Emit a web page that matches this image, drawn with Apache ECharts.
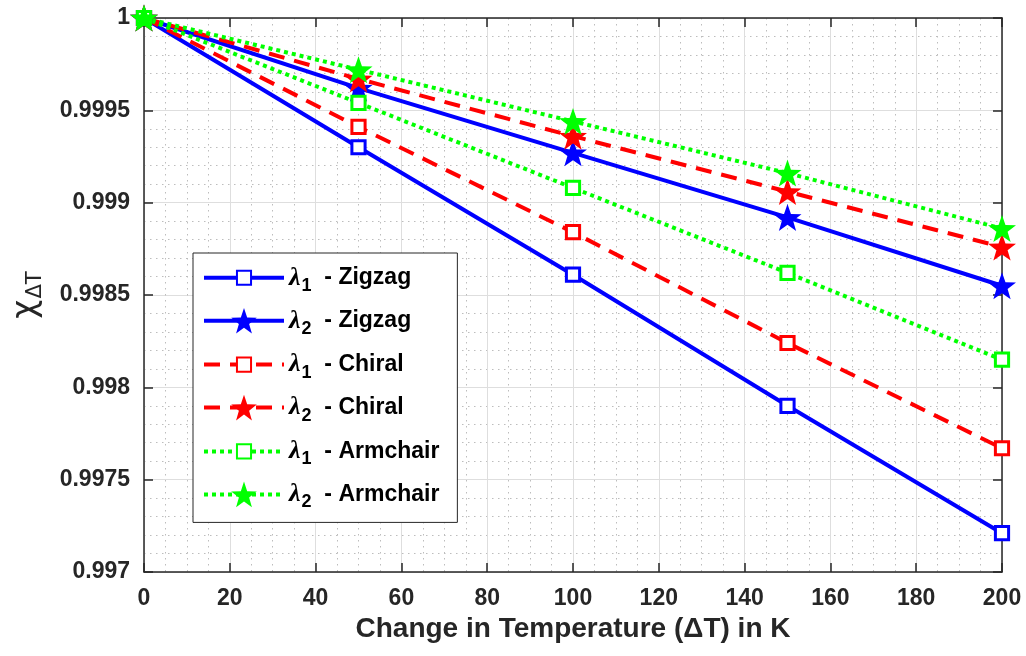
<!DOCTYPE html>
<html>
<head>
<meta charset="utf-8">
<script src="https://cdn.jsdelivr.net/npm/echarts@6/dist/echarts.min.js"></script>
<style>
  html, body { margin: 0; padding: 0; background: #fff; }
  #chart { width: 1026px; height: 656px; }
</style>
</head>
<body>
<div id="chart"></div>
<script>
// temperature change (K)
const deltaT = [0, 50, 100, 150, 200];

// values
const lambda1Zigzag = [1, 0.99930, 0.99861, 0.99790, 0.99721];
const lambda2Zigzag = [1, 0.99962, 0.99927, 0.99892, 0.99855];
const lambda1Chiral = [1, 0.99941, 0.99884, 0.99824, 0.99767];
const lambda2Chiral = [1, 0.99967, 0.99936, 0.99906, 0.99876];
const lambda1Armchair = [1, 0.99954, 0.99908, 0.99862, 0.99815];
const lambda2Armchair = [1, 0.99972, 0.99944, 0.99916, 0.99886];

const seriesNames = [
  "λ1 - Zigzag", "λ2 - Zigzag",
  "λ1 - Chiral", "λ2 - Chiral",
  "λ1 - Armchair", "λ2 - Armchair",
];

const axisColor = "#262626";
const star = "path://M0,-10 L2.35,-3.24 L9.51,-3.09 L3.8,1.24 L5.88,8.09 L0,4 L-5.88,8.09 L-3.8,1.24 L-9.51,-3.09 L-2.35,-3.24 Z";
// square drawn at ~55% of its box, so the legend icon keeps it small next to the stars
const square = "path://M-10,-10 M10,10 M-5.5,-5.5 L5.5,-5.5 L5.5,5.5 L-5.5,5.5 Z";

function pairs(ys) {
  return deltaT.map((x, i) => [x, ys[i]]);
}

function makeSeries(name, ys, color, dash, marker) {
  const isStar = marker === "star";
  return {
    name: name,
    type: "line",
    data: pairs(ys),
    symbol: isStar ? star : square,
    symbolSize: isStar ? [28, 27] : 24,
    showSymbol: true,
    lineStyle: { color: color, width: 4, type: dash },
    itemStyle: isStar
      ? { color: color, borderWidth: 0 }
      : { color: "#fff", borderColor: color, borderWidth: 3 },
    emphasis: { disabled: true },
    z: 2,
  };
}

const chart = echarts.init(document.getElementById("chart"), null, { renderer: "canvas" });

const tickLabel = {
  fontSize: 23,
  fontWeight: "bold",
  color: axisColor,
  fontFamily: "Liberation Sans",
};

const options = {
  animation: false,
  backgroundColor: "#fff",
  grid: { left: 144, right: 24, top: 18, bottom: 84 },
  legend: {
    orient: "vertical",
    left: 193,
    top: 253,
    selectedMode: false,
    backgroundColor: "#fff",
    borderColor: axisColor,
    borderWidth: 1,
    padding: [11, 18, 11, 9],
    itemWidth: 80,
    itemHeight: 32,
    itemGap: 13,
    lineStyle: { width: 4 },
    data: seriesNames,
    formatter: function (name) {
      const m = name.match(/λ(\d) - (.*)/);
      return "{l|λ}{s|" + m[1] + "}{t|  - " + m[2] + "}";
    },
    textStyle: {
      color: "#000",
      rich: {
        l: { fontSize: 26, fontStyle: "italic", fontWeight: "bold", fontFamily: "Liberation Serif", color: "#000" },
        s: { fontSize: 18, fontWeight: "bold", fontFamily: "Liberation Sans", color: "#000", padding: [16, 0, 0, 1] },
        t: { fontSize: 23, fontWeight: "bold", fontFamily: "Liberation Sans", color: "#000" },
      },
    },
  },
  xAxis: [
    {
      type: "value",
      min: 0,
      max: 200,
      interval: 20,
      position: "bottom",
      name: "Change in Temperature (ΔT) in K",
      nameLocation: "middle",
      nameGap: 43,
      nameTextStyle: { fontSize: 28, fontWeight: "bold", color: axisColor, fontFamily: "Liberation Sans" },
      axisLine: { show: true, onZero: false, lineStyle: { color: axisColor, width: 1.5 } },
      axisTick: { show: true, inside: true, length: 9, lineStyle: { color: axisColor, width: 1.5 } },
      axisLabel: Object.assign({ margin: 15 }, tickLabel),
      splitLine: { show: true, lineStyle: { color: "#dedede", width: 1 } },
      minorTick: { show: false, splitNumber: 4 },
      minorSplitLine: { show: true, lineStyle: { color: "#bdbdbd", width: 1, type: [1.5, 4.5] } },
    },
    {
      type: "value",
      min: 0,
      max: 200,
      interval: 20,
      position: "top",
      axisLine: { show: true, onZero: false, lineStyle: { color: axisColor, width: 1.5 } },
      axisTick: { show: true, inside: true, length: 9, lineStyle: { color: axisColor, width: 1.5 } },
      axisLabel: { show: false },
      splitLine: { show: false },
    },
  ],
  yAxis: [
    {
      type: "value",
      min: 0.997,
      max: 1,
      interval: 0.0005,
      position: "left",
      name: "{c|χ}{s|ΔT}",
      nameLocation: "middle",
      nameGap: 98,
      nameRotate: 90,
      nameTextStyle: {
        color: axisColor,
        rich: {
          c: { fontSize: 33, fontFamily: "DejaVu Sans", color: axisColor },
          s: { fontSize: 21, fontFamily: "DejaVu Sans", color: axisColor, padding: [18, 0, 0, 1] },
        },
      },
      axisLine: { show: true, onZero: false, lineStyle: { color: axisColor, width: 1.5 } },
      axisTick: { show: true, inside: true, length: 9, lineStyle: { color: axisColor, width: 1.5 } },
      axisLabel: Object.assign({
        margin: 14,
        formatter: (v) => String(+v.toFixed(4)),
      }, tickLabel),
      splitLine: { show: true, lineStyle: { color: "#dedede", width: 1 } },
      minorTick: { show: false, splitNumber: 5 },
      minorSplitLine: { show: true, lineStyle: { color: "#bdbdbd", width: 1, type: [1.5, 4.5] } },
    },
    {
      type: "value",
      min: 0.997,
      max: 1,
      interval: 0.0005,
      position: "right",
      axisLine: { show: true, onZero: false, lineStyle: { color: axisColor, width: 1.5 } },
      axisTick: { show: true, inside: true, length: 9, lineStyle: { color: axisColor, width: 1.5 } },
      axisLabel: { show: false },
      splitLine: { show: false },
    },
  ],
  series: [
    makeSeries(seriesNames[0], lambda1Zigzag, "#0000ff", "solid", "rect"),
    makeSeries(seriesNames[1], lambda2Zigzag, "#0000ff", "solid", "star"),
    makeSeries(seriesNames[2], lambda1Chiral, "#ff0000", [16, 10], "rect"),
    makeSeries(seriesNames[3], lambda2Chiral, "#ff0000", [16, 10], "star"),
    makeSeries(seriesNames[4], lambda1Armchair, "#00ff00", [4, 4], "rect"),
    makeSeries(seriesNames[5], lambda2Armchair, "#00ff00", [4, 4], "star"),
  ],
};

chart.setOption(options);
</script>
</body>
</html>
